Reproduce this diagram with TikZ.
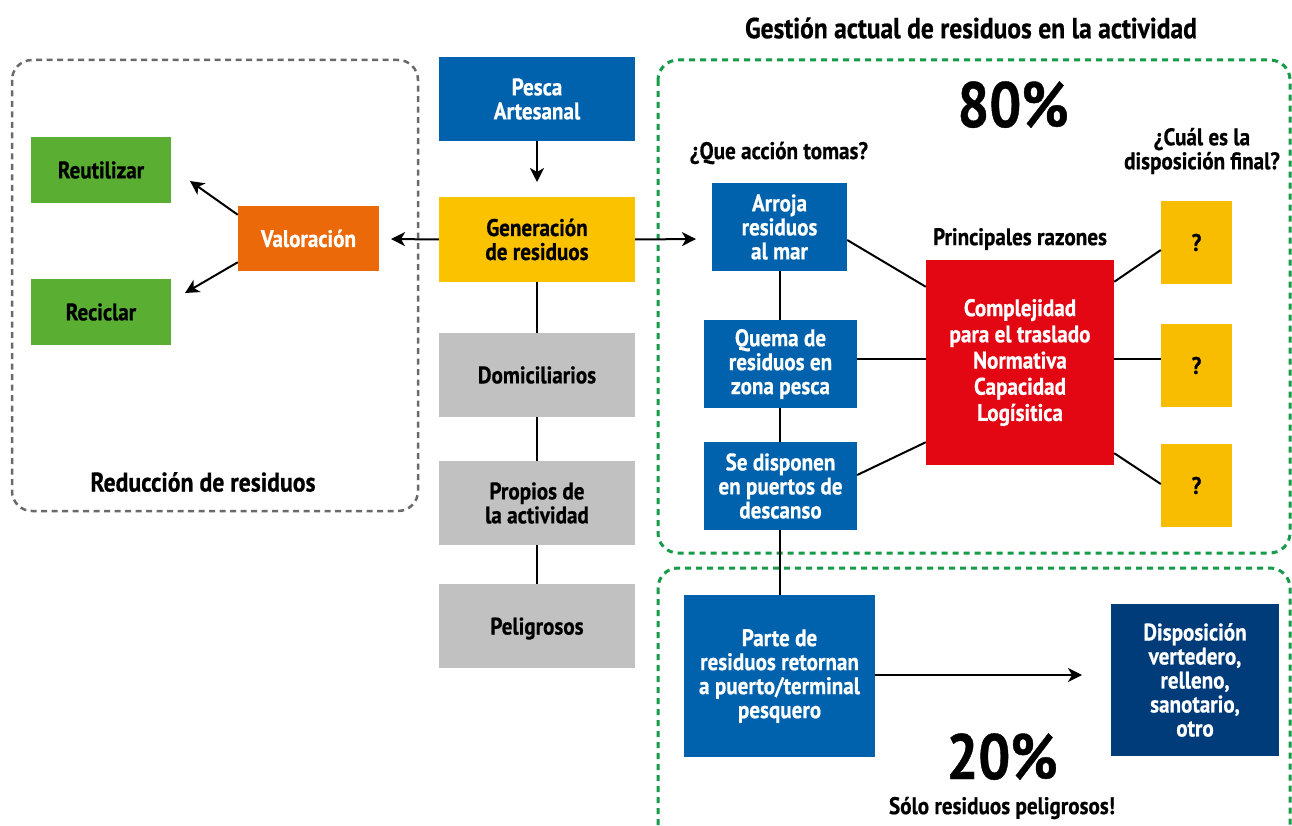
\documentclass[tikz,border=0pt]{standalone}
\usepackage{fontspec}
\setmainfont{PT Sans}[FakeStretch=0.88, BoldFeatures={FakeBold=0.6}]
\usetikzlibrary{arrows.meta,calc}
\definecolor{cblue}{HTML}{0062AC}
\definecolor{cdblue}{HTML}{003B7A}
\definecolor{cyellow}{HTML}{FBC200}
\definecolor{cqyellow}{HTML}{F9BD00}
\definecolor{cgray}{HTML}{C1C1C1}
\definecolor{cgreen}{HTML}{5AAF32}
\definecolor{corange}{HTML}{EB6909}
\definecolor{cred}{HTML}{E30613}
\definecolor{cgdash}{HTML}{169B48}
\definecolor{cgraydash}{HTML}{6A6A6A}
\tikzset{
  box/.style={inner sep=0pt, align=center, font=\fontsize{24}{24}\selectfont\bfseries},
  wbox/.style={box, text=white},
  kbox/.style={box, text=black},
  lbl/.style={align=center, inner sep=1pt, font=\fontsize{24}{24}\selectfont\bfseries},
  big/.style={inner sep=0pt, text depth=0pt, anchor=base, font=\fontsize{64}{64}\selectfont\bfseries},
  conn/.style={line width=2pt, black},
  arr/.style={conn, -{Stealth[length=14pt,width=14pt,inset=4pt]}},
  grayframe/.style={draw=cgraydash, line width=2.5pt, dash pattern=on 6pt off 4.5pt, rounded corners=20pt},
  greenframe/.style={draw=cgdash, line width=3pt, dash pattern=on 6pt off 5pt, rounded corners=20pt},
}
\begin{document}
\begin{tikzpicture}[x=1pt,y=-1pt]
\useasboundingbox (0,0) rectangle (1292,826);
\clip (0,0) rectangle (1292,826);
\fill[white] (0,0) rectangle (1292,826);
% frames
\draw[grayframe] (12,60) rectangle (418,511);
\draw[greenframe] (658,60) rectangle (1290,553);
\draw[greenframe] (658,568) rectangle (1290,850);
% left side
\node[kbox, fill=cgreen, minimum width=140pt, minimum height=66pt] (reut) at (101,170) {Reutilizar};
\node[kbox, fill=cgreen, minimum width=140pt, minimum height=66pt] (recic) at (101,312) {Reciclar};
\node[wbox, fill=corange, minimum width=141pt, minimum height=65pt] (valor) at (308.5,238.5) {Valoración};
\node[lbl, font=\fontsize{27}{27}\selectfont\bfseries] (reduc) at (203,482) {Reducción de residuos};
% middle column
\node[wbox, fill=cblue, minimum width=196pt, minimum height=84pt] (pesca) at (537,99) {Pesca\\Artesanal};
\node[kbox, fill=cyellow, minimum width=196pt, minimum height=85pt] (gen) at (537,239.5) {Generación\\de residuos};
\node[kbox, fill=cgray, minimum width=196pt, minimum height=84pt] (dom) at (537,375) {Domiciliarios};
\node[kbox, fill=cgray, minimum width=196pt, minimum height=84pt] (prop) at (537,503) {Propios de\\la actividad};
\node[kbox, fill=cgray, minimum width=196pt, minimum height=84pt, text depth=0pt] (pel) at (537,626) {Peligrosos};
% right top
\node[lbl, font=\fontsize{29}{29}\selectfont\bfseries] (titulo) at (971,28) {Gestión actual de residuos en la actividad};
\node[big] (ochenta) at (1013,127) {80\%};
\node[lbl] (accion) at (779,153) {¿Que acción tomas?};
\node[lbl] (cual) at (1202,151) {¿Cuál es la\\disposición final?};
\node[lbl] (razones) at (1020,239) {Principales razones};
\node[wbox, fill=cblue, minimum width=135pt, minimum height=88pt] (arroja) at (779.5,227) {Arroja\\residuos\\al mar};
\node[wbox, fill=cblue, minimum width=153pt, minimum height=88pt] (quema) at (780.5,364) {Quema de\\residuos en\\zona pesca};
\node[wbox, fill=cblue, minimum width=153pt, minimum height=88pt] (sedisp) at (780.5,486) {Se disponen\\en puertos de\\descanso};
\node[wbox, fill=cred, minimum width=188pt, minimum height=205pt, font=\fontsize{24}{26.2}\selectfont\bfseries] (red) at (1020,362.5) {Complejidad\\para el traslado\\Normativa\\Capacidad\\Logísitica};
\node[kbox, fill=cqyellow, minimum width=71pt, minimum height=83pt] (q1) at (1196.5,242.5) {?};
\node[kbox, fill=cqyellow, minimum width=71pt, minimum height=83pt] (q2) at (1196.5,365.5) {?};
\node[kbox, fill=cqyellow, minimum width=71pt, minimum height=83pt] (q3) at (1196.5,485.5) {?};
% right bottom
\node[wbox, fill=cblue, minimum width=191pt, minimum height=162pt] (parte) at (779.5,676) {Parte de\\residuos retornan\\a puerto/terminal\\pesquero};
\node[wbox, fill=cdblue, minimum width=168pt, minimum height=152pt] (dispo) at (1195,680) {Disposición\\vertedero,\\relleno,\\sanotario,\\otro};
\node[big] (veinte) at (1002,779) {20\%};
\node[lbl, inner sep=0pt] (solo) at (1002,808) {Sólo residuos peligrosos!};
% free ends
\coordinate (tipreut) at (190,181);
\coordinate (tiprecic) at (185,293);
\coordinate (tipval) at (391,239);
\coordinate (tipgen) at (696,239);
\coordinate (tippesca) at (537,182);
\coordinate (tipparte) at (1082,675);
% connectors
\draw[arr] ($(valor.north west)+(0,9)$) -- (tipreut);
\draw[arr] ($(valor.south west)+(0,-9)$) -- (tiprecic);
\draw[arr] (gen.west) -- (tipval);
\draw[arr] (gen.east) -- (tipgen);
\draw[arr] (pesca.south) -- (tippesca);
\draw[arr] ($(parte.east)+(0,-1)$) -- (tipparte);
\draw[conn] (gen.south) -- (dom.north);
\draw[conn] (dom.south) -- (prop.north);
\draw[conn] (prop.south) -- (pel.north);
\draw[conn] (arroja.south) -- (arroja.south |- quema.north);
\draw[conn] (arroja.south |- quema.south) -- (arroja.south |- sedisp.north);
\draw[conn] (arroja.south |- sedisp.south) -- (arroja.south |- parte.north);
\draw[conn] ($(arroja.east)+(0,13)$) -- ($(red.north west)+(0,27)$);
\draw[conn] ($(quema.east)+(0,-5)$) -- ($(red.west)+(0,-3.5)$);
\draw[conn] ($(sedisp.east)+(0,-11)$) -- ($(red.south west)+(0,-23)$);
\draw[conn] ($(red.north east)+(0,22)$) -- ($(q1.west)+(0,7.5)$);
\draw[conn] ($(red.east)+(0,-3.5)$) -- ($(q2.west)+(0,-6.5)$);
\draw[conn] ($(red.south east)+(0,-12)$) -- ($(q3.west)+(0,-1.5)$);
\end{tikzpicture}
\end{document}
